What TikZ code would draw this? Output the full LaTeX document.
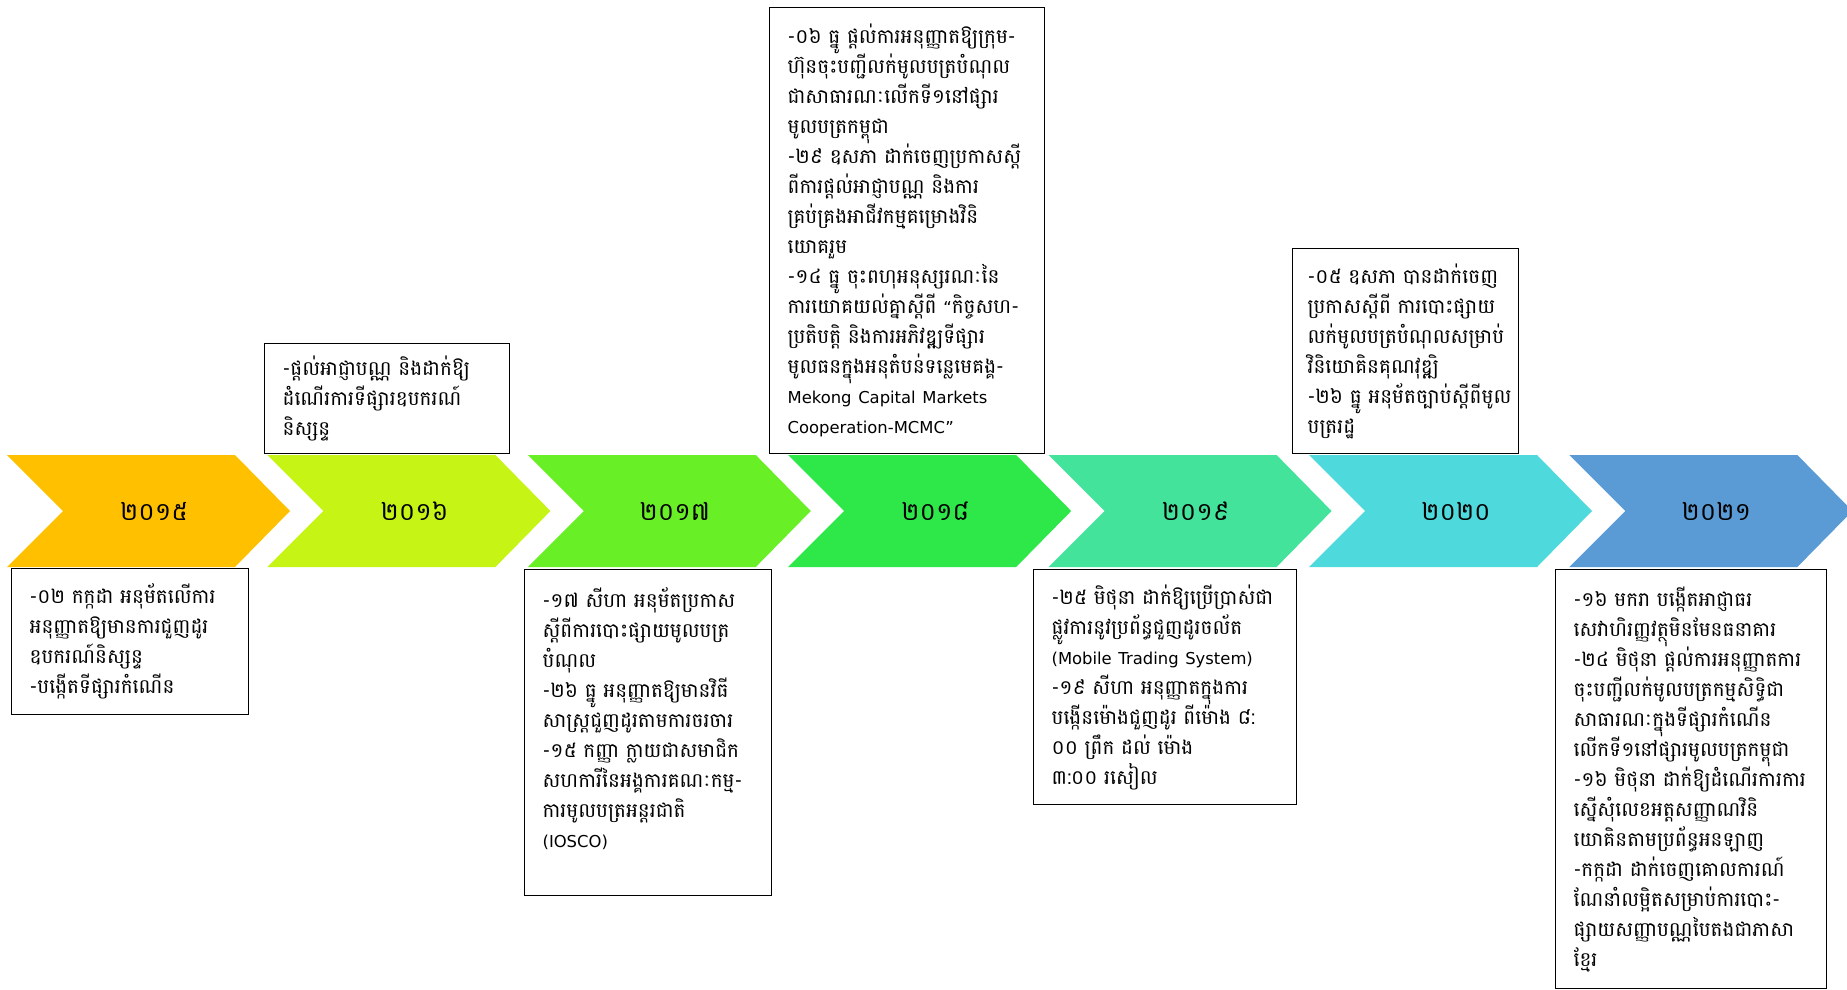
\documentclass[tikz,border=0pt]{standalone}
\usepackage{fontspec}
\setmainfont{DejaVu Sans}
\newfontfamily\khm[Script=Khmer]{Battambang}
\newfontfamily\lat{DejaVu Sans}
\definecolor{c2015}{HTML}{FFC000}
\definecolor{c2016}{HTML}{C6F414}
\definecolor{c2017}{HTML}{69EF26}
\definecolor{c2018}{HTML}{2EE84A}
\definecolor{c2019}{HTML}{43E39C}
\definecolor{c2020}{HTML}{4ED9DD}
\definecolor{c2021}{HTML}{5B9BD5}
\newcommand\la[1]{{\lat\fontsize{16.4}{30}\selectfont #1}}
\newcommand\boxfont{\khm\fontsize{20}{30}\selectfont\exhyphenpenalty=10000\relax\hyphenpenalty=10000\relax}
\begin{document}
\begin{tikzpicture}[x=1pt,y=-1pt,line join=miter,
	yearbox/.style={draw=black,line width=1.2pt,anchor=north west,align=left,inner xsep=18pt,inner ysep=0pt,font=\boxfont},
	yearlbl/.style={font=\khm\fontsize{25}{30}\selectfont}]
	\useasboundingbox (0,0) rectangle (1847,990);
	\foreach \c/\yr [count=\i from 0] in {c2015/២០១៥,c2016/២០១៦,c2017/២០១៧,c2018/២០១៨,c2019/២០១៩,c2020/២០២០,c2021/២០២១}{
		\pgfmathsetmacro\L{7+260.4*\i}
		\fill[\c] (\L,455)--++(228,0)--++(55,56)--++(-55,56)--++(-228,0)--++(56,-56)--cycle;
		\node[yearlbl] (y\i) at (\L+147,511) {\yr};
	}
	\node[yearbox,minimum width=237pt,minimum height=146pt,text width=201pt] (b2015) at (11,568) {-០២~កក្កដា~អនុម័តលើការ\\អនុញ្ញាតឱ្យមានការជួញដូរ\\ឧបករណ៍និស្សន្ទ\\-បង្កើតទីផ្សារកំណើន};
	\node[yearbox,minimum width=245pt,minimum height=110pt,text width=209pt] (b2016) at (264,343) {-ផ្តល់អាជ្ញាបណ្ណ~និងដាក់ឱ្យ\\ដំណើរការទីផ្សារឧបករណ៍\\និស្សន្ទ};
	\node[yearbox,minimum width=247pt,minimum height=326pt,text width=211pt] (b2017) at (524,569) {-១៧~សីហា~អនុម័តប្រកាស\\ស្តីពីការបោះផ្សាយមូលបត្រ\\បំណុល\\-២៦~ធ្នូ~អនុញ្ញាតឱ្យមានវិធី\\សាស្ត្រជួញដូរតាមការចរចារ\\-១៥~កញ្ញា~ក្លាយជាសមាជិក\\សហការីនៃអង្គការគណៈកម្ម-\\ការមូលបត្រអន្តរជាតិ\\\la{(IOSCO)}\\\mbox{}};
	\node[yearbox,minimum width=275pt,minimum height=446pt,text width=239pt] (b2018) at (769,7) {-០៦~ធ្នូ~ផ្តល់ការអនុញ្ញាតឱ្យក្រុម-\\ហ៊ុនចុះបញ្ជីលក់មូលបត្របំណុល\\ជាសាធារណៈលើកទី១នៅផ្សារ\\មូលបត្រកម្ពុជា\\-២៩~ឧសភា~ដាក់ចេញប្រកាសស្តី\\ពីការផ្តល់អាជ្ញាបណ្ណ~និងការ\\គ្រប់គ្រងអាជីវកម្មគម្រោងវិនិ\\យោគរួម\\-១៤~ធ្នូ~ចុះពហុអនុស្សរណៈនៃ\\ការយោគយល់គ្នាស្តីពី~\la{“}កិច្ចសហ-\\ប្រតិបត្តិ~និងការអភិវឌ្ឍទីផ្សារ\\មូលធនក្នុងអនុតំបន់ទន្លេមេគង្គ-\\\la{Mekong~Capital~Markets}\\\la{Cooperation-MCMC”}};
	\node[yearbox,minimum width=263pt,minimum height=235pt,text width=227pt] (b2019) at (1033,569) {-២៥~មិថុនា~ដាក់ឱ្យប្រើប្រាស់ជា\\ផ្លូវការនូវប្រព័ន្ធជួញដូរចល័ត\\\la{(Mobile~Trading~System)}\\-១៩~សីហា~អនុញ្ញាតក្នុងការ\\បង្កើនម៉ោងជួញដូរ~ពីម៉ោង~៨:\\០០~ព្រឹក~ដល់~ម៉ោង\\៣:០០~រសៀល};
	\node[yearbox,inner xsep=15pt,minimum width=226pt,minimum height=205pt,text width=196pt] (b2020) at (1292,248) {-០៥~ឧសភា~បានដាក់ចេញ\\ប្រកាសស្តីពី~ការបោះផ្សាយ\\លក់មូលបត្របំណុលសម្រាប់\\វិនិយោគិនគុណវុឌ្ឍិ\\-២៦~ធ្នូ~អនុម័តច្បាប់ស្តីពីមូល\\បត្ររដ្ឋ};
	\node[yearbox,minimum width=271pt,minimum height=419pt,text width=235pt] (b2021) at (1555,569) {-១៦~មករា~បង្កើតអាជ្ញាធរ\\សេវាហិរញ្ញវត្ថុមិនមែនធនាគារ\\-២៤~មិថុនា~ផ្តល់ការអនុញ្ញាតការ\\ចុះបញ្ជីលក់មូលបត្រកម្មសិទ្ធិជា\\សាធារណៈក្នុងទីផ្សារកំណើន\\លើកទី១នៅផ្សារមូលបត្រកម្ពុជា\\-១៦~មិថុនា~ដាក់ឱ្យដំណើរការការ\\ស្នើសុំលេខអត្តសញ្ញាណវិនិ\\យោគិនតាមប្រព័ន្ធអនឡាញ\\-កក្កដា~ដាក់ចេញគោលការណ៍\\ណែនាំលម្អិតសម្រាប់ការបោះ-\\ផ្សាយសញ្ញាបណ្ណបៃតងជាភាសា\\ខ្មែរ};
\end{tikzpicture}
\end{document}
